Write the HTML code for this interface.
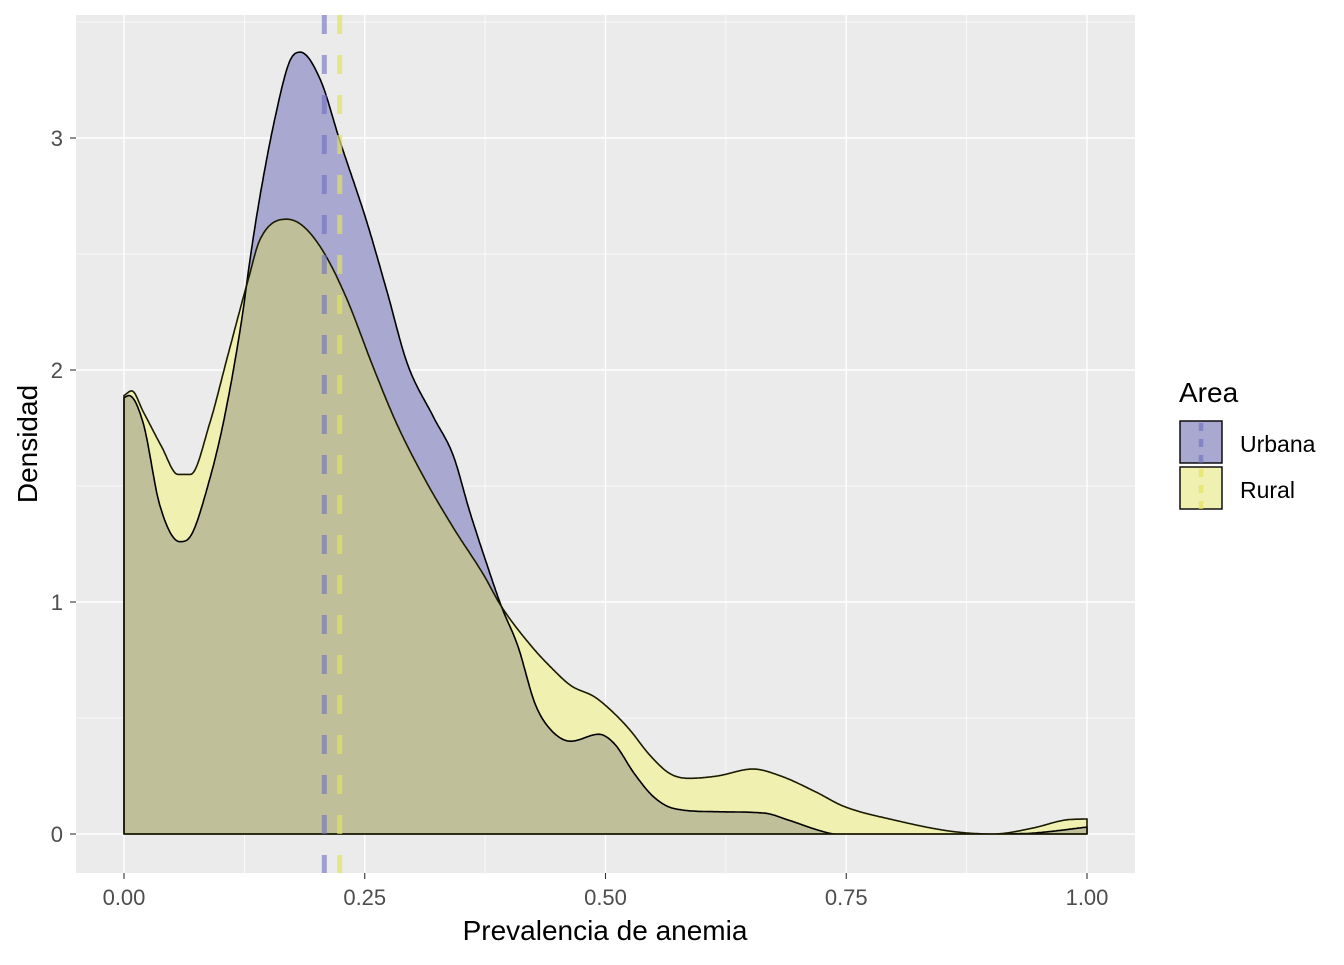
<!DOCTYPE html>
<html><head><meta charset="utf-8"><style>
body{margin:0;background:#fff;}
svg text{font-family:"Liberation Sans",Arial,sans-serif;}
</style></head><body>
<svg id="chart" width="1344" height="960" xmlns="http://www.w3.org/2000/svg">
<rect width="1344" height="960" fill="#fff"/>
<rect x="76" y="15" width="1059" height="858" fill="#ebebeb"/>
<g id="grid"></g>
<g id="marks"></g>
<g id="axes"></g>
<text x="605" y="940" font-size="28" text-anchor="middle" fill="#000">Prevalencia de anemia</text>
<text transform="translate(37,444) rotate(-90)" font-size="28" text-anchor="middle" fill="#000">Densidad</text>
<g>
<text x="1179" y="402" font-size="28" fill="#000">Area</text>
<g>
<rect x="1180" y="421" width="42" height="42" fill="#a8a8d0" stroke="#000" stroke-width="1.4"/>
<line x1="1201" y1="421" x2="1201" y2="463" stroke="rgba(110,110,190,0.6)" stroke-width="4.5" stroke-dasharray="8,8" stroke-dashoffset="-2"/>
<text x="1240" y="452" font-size="23" fill="#000">Urbana</text>
</g>
<g>
<rect x="1180" y="467" width="42" height="42" fill="#f0f0b0" stroke="#000" stroke-width="1.4"/>
<line x1="1201" y1="467" x2="1201" y2="509" stroke="rgba(225,225,100,0.7)" stroke-width="4.5" stroke-dasharray="8,8" stroke-dashoffset="-2"/>
<text x="1240" y="498" font-size="23" fill="#000">Rural</text>
</g>
</g>
</svg>
<script>
const urbX=[0,0.005,0.02,0.037,0.058,0.070,0.087,0.103,0.122,0.131,0.140,0.157,0.172,0.183,0.204,0.224,0.252,0.273,0.294,0.321,0.342,0.359,0.377,0.392,0.409,0.427,0.443,0.464,0.493,0.509,0.530,0.550,0.571,0.616,0.665,0.690,0.723,0.739,0.88,0.936,0.96,1.0];
const urbY=[1.88,1.89,1.77,1.42,1.26,1.29,1.50,1.77,2.21,2.48,2.72,3.09,3.33,3.37,3.25,2.99,2.64,2.34,2.03,1.80,1.63,1.39,1.16,0.98,0.81,0.56,0.45,0.40,0.43,0.39,0.26,0.16,0.11,0.096,0.09,0.06,0.014,0.0,0.0,0.002,0.01,0.03];
const rurX=[0,0.008,0.02,0.039,0.056,0.069,0.089,0.107,0.129,0.141,0.169,0.186,0.207,0.231,0.259,0.283,0.311,0.342,0.373,0.392,0.423,0.443,0.464,0.489,0.509,0.525,0.546,0.567,0.587,0.616,0.653,0.682,0.719,0.747,0.80,0.862,0.903,0.944,0.977,1.0];
const rurY=[1.89,1.91,1.82,1.67,1.55,1.55,1.77,2.05,2.39,2.56,2.65,2.62,2.51,2.31,2.01,1.77,1.54,1.32,1.12,0.98,0.81,0.72,0.64,0.59,0.52,0.45,0.34,0.26,0.24,0.25,0.28,0.25,0.18,0.12,0.06,0.01,0.0,0.026,0.06,0.065];
const means=[0.208,0.224];
const xTicks=[0,0.25,0.5,0.75,1.0];
const xTickLabels=["0.00","0.25","0.50","0.75","1.00"];
const yTicks=[0,1,2,3];
const yTickLabels=["0","1","2","3"];

const X=v=>124+v*963, Y=v=>834-v*232;
const NS="http://www.w3.org/2000/svg";
function mk(tag,attrs,parent){const e=document.createElementNS(NS,tag);for(const k in attrs)e.setAttribute(k,attrs[k]);parent.appendChild(e);return e;}
const grid=document.getElementById('grid'),marks=document.getElementById('marks'),axes=document.getElementById('axes');
for(let i=0;i<xTicks.length;i++){
  if(i<xTicks.length-1){const m=(xTicks[i]+xTicks[i+1])/2;const l=mk('line',{x1:X(m),x2:X(m),y1:15,y2:873,stroke:'#fff','stroke-width':0.7},grid);
  
  }
  const l=mk('line',{x1:X(xTicks[i]),x2:X(xTicks[i]),y1:15,y2:873,stroke:'#fff','stroke-width':1.4},grid);
  
  
  const t=mk('text',{x:X(xTicks[i]),y:905,'font-size':22,'text-anchor':'middle',fill:'#4d4d4d'},axes);t.textContent=xTickLabels[i];
  
  
  mk('line',{x1:X(xTicks[i]),x2:X(xTicks[i]),y1:873,y2:879,stroke:'#333','stroke-width':1.1},axes);
}
for(let i=0;i<yTicks.length;i++){
  const m=yTicks[i]+0.5;const lm=mk('line',{x1:76,x2:1135,y1:Y(m),y2:Y(m),stroke:'#fff','stroke-width':0.7},grid);
  
  
  const l=mk('line',{x1:76,x2:1135,y1:Y(yTicks[i]),y2:Y(yTicks[i]),stroke:'#fff','stroke-width':1.4},grid);
  
  
  const t=mk('text',{x:63,y:Y(yTicks[i])+8,'font-size':22,'text-anchor':'end',fill:'#4d4d4d'},axes);t.textContent=yTickLabels[i];
  
  
  mk('line',{x1:70,x2:76,y1:Y(yTicks[i]),y2:Y(yTicks[i]),stroke:'#333','stroke-width':1.1},axes);
}
function mono(xs,ys){
  const n=xs.length,d=[],m=new Array(n);
  for(let i=0;i<n-1;i++)d.push((ys[i+1]-ys[i])/(xs[i+1]-xs[i]));
  m[0]=d[0];m[n-1]=d[n-2];
  for(let i=1;i<n-1;i++){m[i]=(d[i-1]*d[i]<=0)?0:(d[i-1]+d[i])/2;}
  for(let i=0;i<n-1;i++){if(d[i]===0){m[i]=0;m[i+1]=0;continue;}const a=m[i]/d[i],b=m[i+1]/d[i],s=a*a+b*b;if(s>9){const t=3/Math.sqrt(s);m[i]=t*a*d[i];m[i+1]=t*b*d[i];}}
  return x=>{let i=0;while(i<n-2&&x>xs[i+1])i++;const h=xs[i+1]-xs[i],t=(x-xs[i])/h,t2=t*t,t3=t2*t;
    return Math.max(0,(2*t3-3*t2+1)*ys[i]+(t3-2*t2+t)*h*m[i]+(-2*t3+3*t2)*ys[i+1]+(t3-t2)*h*m[i+1]);};
}
const fu=mono(urbX,urbY),fr=mono(rurX,rurY);
const gx=[];for(let i=0;i<=1000;i++)gx.push(i/1000);
const uY=gx.map(fu),rY=gx.map(fr),minY=gx.map((x,i)=>Math.min(uY[i],rY[i]));
function areaPath(xs,ys){let d='M'+X(xs[0])+','+Y(0);for(let i=0;i<xs.length;i++)d+=' L'+X(xs[i]).toFixed(1)+','+Y(ys[i]).toFixed(1);d+=' L'+X(xs[xs.length-1])+','+Y(0)+' Z';return d;}
const pu=mk('path',{d:areaPath(gx,uY),fill:'#a8a8d0',stroke:'none'},marks);


const pr=mk('path',{d:areaPath(gx,rY),fill:'#f0f0b0',stroke:'none'},marks);


const po=mk('path',{d:areaPath(gx,minY),fill:'#bfbf99',stroke:'none'},marks);


const lu=mk('path',{d:areaPath(gx,uY),fill:'none',stroke:'#000','stroke-width':1.6,'stroke-linejoin':'round'},marks);


const lr=mk('path',{d:areaPath(gx,rY),fill:'none',stroke:'#1a1a00','stroke-width':1.6,'stroke-linejoin':'round'},marks);


const mcol=['rgba(110,110,190,0.6)','rgba(225,225,100,0.7)'];
for(let i=0;i<means.length;i++){
  const ml=mk('line',{x1:X(means[i]),x2:X(means[i]),y1:15,y2:873,stroke:mcol[i],'stroke-width':5,'stroke-dasharray':'19,21'},marks);
  
  
}
</script>
</body></html>
